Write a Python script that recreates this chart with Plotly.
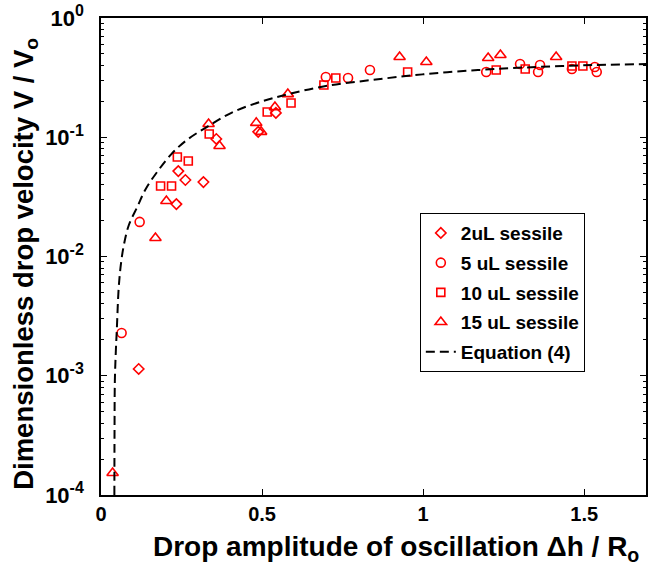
import plotly.graph_objects as go

# ---- data ----
x_2ul = [0.117, 0.234, 0.240, 0.262, 0.318, 0.358, 0.488, 0.543]
y_2ul = [0.00114, 0.0275, 0.052, 0.0438, 0.0421, 0.0967, 0.111, 0.160]

x_5ul = [0.064, 0.120, 0.698, 0.767, 0.835, 1.196, 1.301, 1.357, 1.363, 1.462, 1.533, 1.539]
y_5ul = [0.00228, 0.0195, 0.320, 0.314, 0.366, 0.353, 0.411, 0.353, 0.404, 0.374, 0.388, 0.353]

x_10ul = [0.185, 0.219, 0.237, 0.271, 0.336, 0.516, 0.590, 0.692, 0.729, 0.952, 1.227, 1.317, 1.462, 1.496]
y_10ul = [0.039, 0.039, 0.0683, 0.0632, 0.1065, 0.163, 0.194, 0.274, 0.314, 0.353, 0.366, 0.374, 0.396, 0.396]

x_15ul = [0.036, 0.169, 0.203, 0.334, 0.368, 0.482, 0.497, 0.540, 0.580, 0.927, 1.010, 1.202, 1.240, 1.413]
y_15ul = [0.000153, 0.0143, 0.0292, 0.129, 0.0844, 0.132, 0.111, 0.179, 0.230, 0.471, 0.428, 0.462, 0.490, 0.471]

x_eq = [0.0415, 0.042, 0.043, 0.046, 0.049, 0.055, 0.062, 0.071, 0.086, 0.114, 0.138, 0.175,
        0.221, 0.267, 0.333, 0.41, 0.50, 0.585, 0.698, 0.84, 1.0, 1.17, 1.32, 1.53, 1.7]
y_eq = [0.0001, 0.00034, 0.0009, 0.0016, 0.0024, 0.0055, 0.0087, 0.0125, 0.0182, 0.0265, 0.0365, 0.0515,
        0.0735, 0.095, 0.124, 0.163, 0.200, 0.231, 0.269, 0.302, 0.337, 0.366, 0.385, 0.403, 0.411]

x_tickvals = [0, 0.5, 1, 1.5]
x_ticktext = ["0", "0.5", "1", "1.5"]
y_tickvals = [1e-4, 1e-3, 1e-2, 1e-1, 1]
y_exponents = ["-4", "-3", "-2", "-1", "0"]
y_ticktext = ["10<sup><span style='font-size:16px'>%s</span></sup>" % e for e in y_exponents]

RED = "#ff0000"
FONT = "Liberation Sans, Arial, Helvetica, sans-serif"

fig = go.Figure()

def add_markers(x, y, name, symbol, size, group):
    fig.add_trace(go.Scatter(
        x=x, y=y, mode="markers", name=name, legendgroup=group,
        marker=dict(symbol=symbol, size=size, color=RED,
                    line=dict(color=RED, width=1.6)),
    ))

add_markers(x_2ul, y_2ul, "2uL sessile", "diamond-open", 8, "a")
add_markers(x_5ul, y_5ul, "5 uL sessile", "circle-open", 9, "b")
add_markers(x_10ul, y_10ul, "10 uL sessile", "square-open", 8, "c")
add_markers(x_15ul, y_15ul, "15 uL sessile", "triangle-up-open", 10, "d")

fig.add_trace(go.Scatter(
    x=x_eq, y=y_eq, mode="lines", name="Equation (4)", legendgroup="e",
    line=dict(color="black", width=2, dash="9px,5px", shape="spline", smoothing=1.0),
))

minor_vals = [k * 10 ** n for n in range(-4, 0) for k in range(2, 10)]

fig.update_layout(
    width=649, height=577,
    margin=dict(l=101, r=1, t=18, b=82),
    paper_bgcolor="white", plot_bgcolor="white",
    font=dict(family=FONT, color="black"),
    showlegend=True,
    legend=dict(
        x=0.585, y=0.591, xanchor="left", yanchor="top",
        bgcolor="white", bordercolor="black", borderwidth=1,
        font=dict(family=FONT, size=19, color="black", weight="bold"),
        tracegroupgap=2, itemwidth=30,
        entrywidth=158, entrywidthmode="pixels",
    ),
    xaxis=dict(
        range=[0, 1.692], showgrid=False, zeroline=False,
        showline=True, linecolor="black", linewidth=1.5, mirror="ticks",
        ticks="inside", ticklen=6, tickwidth=1.2, tickcolor="black",
        tickmode="array", tickvals=x_tickvals, ticktext=x_ticktext,
        tickfont=dict(family=FONT, size=20, color="black", weight="bold"),
    ),
    yaxis=dict(
        type="log", range=[-4, 0], showgrid=False, zeroline=False,
        showline=True, linecolor="black", linewidth=1.5, mirror="ticks",
        ticks="inside", ticklen=6, tickwidth=1.2, tickcolor="black",
        tickmode="array", tickvals=y_tickvals, ticktext=y_ticktext,
        tickfont=dict(family=FONT, size=22, color="black", weight="bold"),
        ticklabelstandoff=11,
        minor=dict(ticks="inside", ticklen=3, tickwidth=1, tickcolor="black",
                   tickmode="array", tickvals=minor_vals),
    ),
    annotations=[
        dict(text="Drop amplitude of oscillation \u0394h / R<sub>o</sub>",
             xref="paper", yref="paper", x=0.541, y=-0.072, xanchor="center", yanchor="top",
             showarrow=False, font=dict(family=FONT, size=28, color="black", weight="bold")),
        dict(text="Dimensionless drop velocity V / V<sub>o</sub>",
             xref="paper", yref="paper", x=-0.14, y=0.484, xanchor="center", yanchor="middle",
             textangle=-90, showarrow=False,
             font=dict(family=FONT, size=27.5, color="black", weight="bold")),
    ],
)

fig.write_html("out.html")
